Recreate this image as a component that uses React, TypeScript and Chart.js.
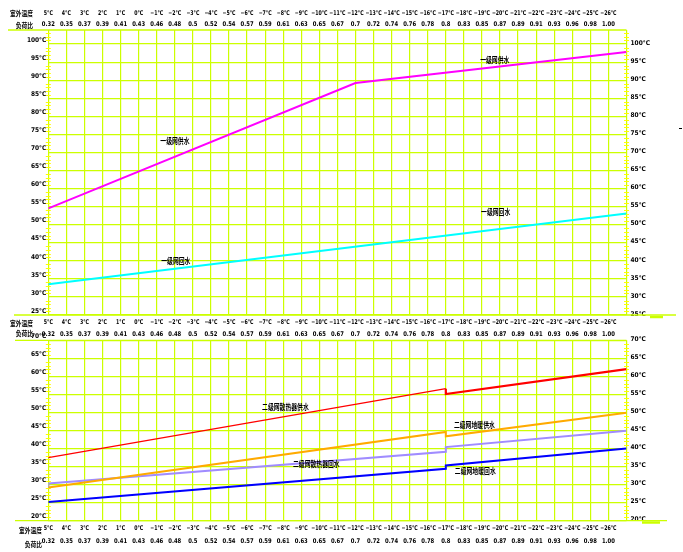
import React, { useEffect, useRef } from 'react';
import { Chart, registerables } from 'chart.js';

Chart.register(...registerables);

// ---------- data ----------
const outdoorTemps = [5, 4, 3, 2, 1, 0, -1, -2, -3, -4, -5, -6, -7, -8, -9, -10, -11, -12, -13, -14, -15, -16, -17, -18, -19, -20, -21, -22, -23, -24, -25, -26];
const loadRatios = ['0.32', '0.35', '0.37', '0.39', '0.41', '0.43', '0.46', '0.48', '0.5', '0.52', '0.54', '0.57', '0.59', '0.61', '0.63', '0.65', '0.67', '0.7', '0.72', '0.74', '0.76', '0.78', '0.8', '0.83', '0.85', '0.87', '0.89', '0.91', '0.93', '0.96', '0.98', '1.00'];
const xGridTemps = [5, 4, 3, 2, 1, 0, -1, -2, -3, -4, -5, -6, -7, -8, -9, -10, -11, -12, -13, -14, -15, -16, -17, -18, -19, -20, -21, -22, -23, -24, -25, -26, -27];
const topYTicks = [25, 30, 35, 40, 45, 50, 55, 60, 65, 70, 75, 80, 85, 90, 95, 100];
const bottomYTicks = [20, 25, 30, 35, 40, 45, 50, 55, 60, 65, 70];

// primary network (一级网)
const primarySupplyT = [5, -12, -27];
const primarySupply = [54.5, 89.2, 97.8];
const primaryReturnT = [5, -27];
const primaryReturn = [33.5, 53.1];

// secondary network (二级网)
const secondaryT = [5, -17, -17, -27];
const radiatorSupply = [37.5, 56.6, 55.1, 62.0];
const floorSupply = [29.2, 44.6, 43.4, 49.9];
const radiatorReturnT = [5, 5, -17, -17, -27];
const radiatorReturn = [29.0, 30.3, 39.1, 40.4, 44.9];
const floorReturn = [25.2, 34.4, 35.3, 40.0];

// series name labels (data coordinates)
const primaryLabels = [
  { text: '一级网供水', t: -1.2, v: 73.2 },
  { text: '一级网供水', t: -18.9, v: 95.6 },
  { text: '一级网回水', t: -1.25, v: 39.9 },
  { text: '一级网回水', t: -18.95, v: 53.5 },
];
const secondaryLabels = [
  { text: '二级网散热器供水', t: -6.83, v: 51.5 },
  { text: '二级网地暖供水', t: -17.45, v: 46.5 },
  { text: '二级网散热器回水', t: -8.54, v: 35.7 },
  { text: '二级网地暖回水', t: -17.5, v: 33.8 },
];

// ---------- styles ----------
const GRID = '#ccff00';
const TICKY = '#ffff00';
const NUM_FAMILY = "'Liberation Sans Narrow', 'DejaVu Sans Condensed', sans-serif";
const NUM_FONT = `bold 6.5px ${NUM_FAMILY}`;
const CJK_FONT_S = "bold 7px 'Noto Sans CJK SC', sans-serif";
const CJK_FONT_L = "bold 8px 'Noto Sans CJK SC', sans-serif";

const pts = (ts: number[], vs: number[]) => ts.map((t, i) => ({ x: t, y: vs[i] }));
const fmtT = (t: number) => (t < 0 ? '\u2212' + Math.abs(t) : String(t)) + '°C';

function drawText(ctx: CanvasRenderingContext2D, text: string, x: number, y: number, align: CanvasTextAlign, font: string, sx = 1) {
  ctx.save();
  ctx.font = font;
  ctx.fillStyle = '#000';
  ctx.textBaseline = 'middle';
  ctx.textAlign = align;
  ctx.translate(x, y);
  ctx.scale(sx, 1);
  ctx.fillText(text, 0, 0);
  ctx.restore();
}

function hline(ctx: CanvasRenderingContext2D, x0: number, x1: number, y: number, color: string, w: number) {
  ctx.save();
  ctx.strokeStyle = color;
  ctx.lineWidth = w;
  ctx.beginPath();
  ctx.moveTo(x0, y);
  ctx.lineTo(x1, y);
  ctx.stroke();
  ctx.restore();
}

interface HeaderRow { tempY: number; ratioY: number; labelX: number; labelAlign: CanvasTextAlign; tempLabelY: number; ratioLabelY: number }

function makeDecor(opts: {
  headers: HeaderRow[];
  topLineFrom: number;
  bottomLineFrom: number;
  bottomLineTo: number;
  artifact: [number, number, number];
  labels: { text: string; t: number; v: number }[];
  yMin: number;
  yMax: number;
  dash?: [number, number, number];
}) {
  return {
    id: 'decor',
    beforeDatasetsDraw(chart: any) {
      const ctx = chart.ctx as CanvasRenderingContext2D;
      const { left, right, top, bottom } = chart.chartArea;
      const y = chart.scales.y;
      ctx.save();
      ctx.strokeStyle = TICKY;
      ctx.lineWidth = 1;
      for (let v = opts.yMin + 1; v < opts.yMax; v++) {
        if (v % 5 === 0) continue;
        const py = Math.round(y.getPixelForValue(v)) + 0.5;
        ctx.beginPath();
        ctx.moveTo(left - 2.5, py); ctx.lineTo(left + 2.5, py);
        ctx.moveTo(right - 2.5, py); ctx.lineTo(right + 2.5, py);
        ctx.stroke();
      }
      ctx.restore();
      hline(ctx, opts.topLineFrom, right, top, GRID, 1.3);
      hline(ctx, opts.bottomLineFrom, opts.bottomLineTo, bottom, GRID, 1.3);
      hline(ctx, opts.artifact[0], opts.artifact[1], bottom + opts.artifact[2], GRID, 2.5);
      if (opts.dash) hline(ctx, opts.dash[0], opts.dash[1], opts.dash[2], '#000', 1);
    },
    afterDraw(chart: any) {
      const ctx = chart.ctx as CanvasRenderingContext2D;
      const x = chart.scales.x;
      const y = chart.scales.y;
      for (const h of opts.headers) {
        outdoorTemps.forEach((t) => drawText(ctx, fmtT(t), x.getPixelForValue(t), h.tempY, 'center', NUM_FONT, 0.8));
        loadRatios.forEach((r, i) => drawText(ctx, r, x.getPixelForValue(outdoorTemps[i]), h.ratioY, 'center', NUM_FONT, 0.9));
        drawText(ctx, '室外温度', h.labelX, h.tempLabelY, h.labelAlign, CJK_FONT_S, 0.82);
        drawText(ctx, '负荷比', h.labelX, h.ratioLabelY, h.labelAlign, CJK_FONT_S, 0.82);
      }
      for (const l of opts.labels) {
        drawText(ctx, l.text, x.getPixelForValue(l.t), y.getPixelForValue(l.v), 'left', CJK_FONT_L, 0.73);
      }
    },
  };
}

function scalesFor(yMin: number, yMax: number, ticks: number[]) {
  const tickFont = { family: NUM_FAMILY, size: 6.5, weight: 'bold' as const };
  return {
    x: {
      type: 'linear' as const,
      min: -27,
      max: 5,
      reverse: true,
      afterBuildTicks: (s: any) => { s.ticks = xGridTemps.map((v) => ({ value: v })); },
      afterFit: (s: any) => { s.height = 0; },
      grid: { color: GRID, lineWidth: 1.2, drawTicks: false },
      border: { display: false },
      ticks: { display: false },
    },
    y: {
      type: 'linear' as const,
      position: 'left' as const,
      min: yMin,
      max: yMax,
      afterBuildTicks: (s: any) => { s.ticks = ticks.map((v) => ({ value: v })); },
      afterFit: (s: any) => { s.width = 48.3; },
      grid: { color: GRID, lineWidth: 1.2, drawTicks: false },
      border: { display: false },
      ticks: { autoSkip: false, padding: 2, labelOffset: -4, color: '#000', font: tickFont, callback: (v: any) => v + '°C' },
    },
    y2: {
      type: 'linear' as const,
      position: 'right' as const,
      min: yMin,
      max: yMax,
      afterBuildTicks: (s: any) => { s.ticks = ticks.map((v) => ({ value: v })); },
      afterFit: (s: any) => { s.width = 683 - 626.5; },
      grid: { display: false, drawTicks: false },
      border: { display: false },
      ticks: { autoSkip: false, padding: 4, labelOffset: -1, color: '#000', font: tickFont, callback: (v: any) => v + '°C' },
    },
  };
}

const lineDs = (label: string, data: any[], color: string, width: number, extra: any = {}) => ({
  label,
  data,
  borderColor: color,
  backgroundColor: color,
  borderWidth: width,
  pointRadius: 0,
  tension: 0,
  fill: false,
  ...extra,
});

function topConfig(): any {
  return {
    type: 'line',
    data: {
      datasets: [
        lineDs('一级网供水', pts(primarySupplyT, primarySupply), '#ff00ff', 2),
        lineDs('一级网回水', pts(primaryReturnT, primaryReturn), '#00ffff', 2),
      ],
    },
    options: {
      responsive: false,
      animation: false,
      devicePixelRatio: 1,
      layout: { padding: { top: 30, bottom: 552 - 315, left: 0, right: 0 } },
      plugins: { legend: { display: false }, tooltip: { enabled: false } },
      scales: scalesFor(25, 103.9, topYTicks),
    },
    plugins: [
      makeDecor({
        headers: [{ tempY: 13.3, ratioY: 24.3, labelX: 33, labelAlign: 'right', tempLabelY: 13.7, ratioLabelY: 25 }],
        topLineFrom: 8,
        bottomLineFrom: 14,
        bottomLineTo: 676,
        artifact: [650, 663, 2],
        labels: primaryLabels,
        yMin: 25,
        yMax: 104,
        dash: [679, 682, 128.5],
      }),
    ],
  };
}

function bottomConfig(): any {
  return {
    type: 'line',
    data: {
      datasets: [
        lineDs('二级网散热器供水', pts(secondaryT, radiatorSupply), '#ff0000', 2, {
          segment: { borderWidth: (c: any) => (c.p0DataIndex === 0 ? 1.2 : 2.2) },
        }),
        lineDs('二级网地暖供水', pts(secondaryT, floorSupply), '#ffaa00', 2),
        lineDs('二级网散热器回水', pts(radiatorReturnT, radiatorReturn), '#a08cff', 2),
        lineDs('二级网地暖回水', pts(secondaryT, floorReturn), '#0000ff', 2),
      ],
    },
    options: {
      responsive: false,
      animation: false,
      devicePixelRatio: 1,
      layout: { padding: { top: 340.3, bottom: 552 - 520.7, left: 0, right: 0 } },
      plugins: { legend: { display: false }, tooltip: { enabled: false } },
      scales: scalesFor(20, 70, bottomYTicks),
    },
    plugins: [
      makeDecor({
        headers: [
          { tempY: 322.5, ratioY: 334, labelX: 33, labelAlign: 'right', tempLabelY: 323, ratioLabelY: 333.5 },
          { tempY: 528, ratioY: 541, labelX: 42, labelAlign: 'right', tempLabelY: 530, ratioLabelY: 544 },
        ],
        topLineFrom: 15,
        bottomLineFrom: 15,
        bottomLineTo: 667,
        artifact: [642, 660, 1.8],
        labels: secondaryLabels,
        yMin: 20,
        yMax: 70,
      }),
    ],
  };
}

export default function App() {
  const topRef = useRef<HTMLCanvasElement>(null);
  const botRef = useRef<HTMLCanvasElement>(null);
  useEffect(() => {
    const c1 = new Chart(topRef.current as HTMLCanvasElement, topConfig());
    const c2 = new Chart(botRef.current as HTMLCanvasElement, bottomConfig());
    return () => {
      c1.destroy();
      c2.destroy();
    };
  }, []);
  return (
    <div style={{ position: 'absolute', left: 0, top: 0, width: 683, height: 552, background: '#fff', overflow: 'hidden' }}>
      <canvas ref={topRef} width={683} height={552} style={{ position: 'absolute', left: 0, top: 0 }} />
      <canvas ref={botRef} width={683} height={552} style={{ position: 'absolute', left: 0, top: 0 }} />
    </div>
  );
}
